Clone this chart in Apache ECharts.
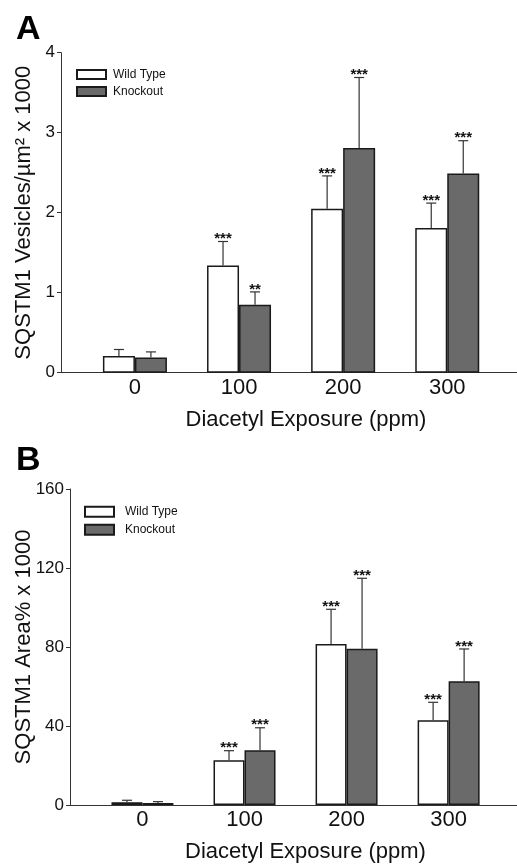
<!DOCTYPE html>
<html>
<head>
<meta charset="utf-8">
<script src="https://cdn.jsdelivr.net/npm/echarts@6/dist/echarts.min.js"></script>
<style>
    html, body { margin: 0; padding: 0; background: #fff; }
    #main { width: 517px; height: 865px; }
</style>
</head>
<body>
<div id="main"></div>
<script>
// 暴露剂量 (ppm)
const doses = [0, 100, 200, 300];

// A: SQSTM1 Vesicles/µm² x 1000
const aWild = [0.21, 1.34, 2.05, 1.81];
const aWildErr = [0.08, 0.30, 0.41, 0.31];
const aWildStars = ['', '***', '***', '***'];
const aKO = [0.19, 0.85, 2.81, 2.49];
const aKOErr = [0.07, 0.16, 0.88, 0.41];
const aKOStars = ['', '**', '***', '***'];

// B: SQSTM1 Area% x 1000
const bWild = [1.4, 22.6, 81.5, 42.9];
const bWildErr = [1.0, 4.9, 17.6, 9.1];
const bWildStars = ['', '***', '***', '***'];
const bKO = [1.0, 27.7, 79.1, 62.6];
const bKOErr = [0.7, 11.4, 35.7, 16.4];
const bKOStars = ['', '***', '***', '***'];

const FONT = '"Liberation Sans", Arial, Helvetica, sans-serif';
const DARK = '#6a6a6a';

function pairs(xs, ys) {
    return xs.map(function (x, i) { return [x, ys[i]]; });
}
function errData(xs, ys, es) {
    return xs.map(function (x, i) { return [x, ys[i], es[i]]; });
}

// 误差线 + 星号
function errRender(sign, barW, stars) {
    return function (params, api) {
        const x = api.value(0), y = api.value(1), e = api.value(2);
        const base = api.coord([x, y]);
        const top = api.coord([x, y + e]);
        const cx = base[0] + sign * barW / 2;
        const st = { stroke: '#333', lineWidth: 1.2 };
        return {
            type: 'group',
            children: [
                { type: 'line', shape: { x1: cx, y1: base[1], x2: cx, y2: top[1] }, style: st },
                { type: 'line', shape: { x1: cx - 5, y1: top[1], x2: cx + 5, y2: top[1] }, style: st },
                {
                    type: 'text',
                    style: {
                        text: stars[params.dataIndex],
                        x: cx, y: top[1] + 5,
                        align: 'center', verticalAlign: 'bottom',
                        font: 'bold 15px ' + FONT, fill: '#111'
                    }
                }
            ]
        };
    };
}

function xAxisCfg(gridIndex, shift) {
    return {
        gridIndex: gridIndex,
        type: 'value',
        min: -71, max: 367,
        name: 'Diacetyl Exposure (ppm)',
        nameLocation: 'middle',
        nameGap: 36,
        nameMoveOverlap: false,
        nameTextStyle: { fontFamily: FONT, fontSize: 22, color: '#111', padding: [0, 0, 0, shift] },
        splitLine: { show: false },
        axisLine: { show: true, onZero: false, lineStyle: { color: '#333', width: 1 } },
        axisTick: { show: false },
        axisLabel: { customValues: doses, fontFamily: FONT, fontSize: 22, color: '#111', margin: 4 }
    };
}

function yAxisCfg(gridIndex, max, interval, name, gap) {
    return {
        gridIndex: gridIndex,
        type: 'value',
        min: 0, max: max, interval: interval,
        name: name,
        nameLocation: 'middle',
        nameGap: gap,
        nameMoveOverlap: false,
        nameTextStyle: { fontFamily: FONT, fontSize: 22, color: '#111' },
        splitLine: { show: false },
        axisLine: { show: true, onZero: false, lineStyle: { color: '#333', width: 1 } },
        axisTick: { show: true, length: 4, lineStyle: { color: '#333' } },
        axisLabel: { fontFamily: FONT, fontSize: 17, color: '#111', margin: 6 }
    };
}

function barSeries(name, xi, data, color) {
    return {
        name: name,
        type: 'bar',
        xAxisIndex: xi, yAxisIndex: xi,
        data: data,
        barWidth: xi === 0 ? 32 : 31,
        barGap: '0%',
        itemStyle: { color: color, borderColor: '#1a1a1a', borderWidth: 1.5 }
    };
}

function errSeries(xi, data, sign, stars) {
    return {
        type: 'custom',
        xAxisIndex: xi, yAxisIndex: xi,
        data: data,
        z: 5,
        renderItem: errRender(sign, xi === 0 ? 32 : 31, stars)
    };
}

const chart = echarts.init(document.getElementById('main'));

const option = {
    animation: false,
    backgroundColor: '#fff',
    title: [
        { text: 'A', left: 11, top: 8, textStyle: { fontFamily: FONT, fontSize: 34, fontWeight: 'bold', color: '#000' } },
        { text: 'B', left: 11, top: 439, textStyle: { fontFamily: FONT, fontSize: 34, fontWeight: 'bold', color: '#000' } }
    ],
    legend: [
        {
            left: 71, top: 63.5, orient: 'vertical',
            itemWidth: 29, itemHeight: 9, itemGap: 5, icon: 'rect',
            data: ['Wild Type', 'Knockout'],
            textStyle: { fontFamily: FONT, fontSize: 12, lineHeight: 12, color: '#111', padding: [0, 0, 0, 2] }
        },
        {
            left: 79, top: 500.7, orient: 'vertical',
            itemWidth: 29, itemHeight: 10, itemGap: 6, icon: 'rect',
            data: ['Wild Type', 'Knockout'],
            textStyle: { fontFamily: FONT, fontSize: 12, lineHeight: 12, color: '#111', padding: [0, 0, 0, 6] }
        }
    ],
    grid: [
        { left: 61, right: 0, top: 52.7, height: 320 },
        { left: 70, right: 0, top: 489, height: 316 }
    ],
    xAxis: [xAxisCfg(0, 34), xAxisCfg(1, 24)],
    yAxis: [
        yAxisCfg(0, 4, 1, 'SQSTM1 Vesicles/µm² x 1000', 26),
        yAxisCfg(1, 160, 40, 'SQSTM1 Area% x 1000', 35)
    ],
    series: [
        barSeries('Wild Type', 0, pairs(doses, aWild), '#fff'),
        barSeries('Knockout', 0, pairs(doses, aKO), DARK),
        errSeries(0, errData(doses, aWild, aWildErr), -1, aWildStars),
        errSeries(0, errData(doses, aKO, aKOErr), 1, aKOStars),
        barSeries('Wild Type', 1, pairs(doses, bWild), '#fff'),
        barSeries('Knockout', 1, pairs(doses, bKO), DARK),
        errSeries(1, errData(doses, bWild, bWildErr), -1, bWildStars),
        errSeries(1, errData(doses, bKO, bKOErr), 1, bKOStars)
    ]
};

chart.setOption(option);
</script>
</body>
</html>
